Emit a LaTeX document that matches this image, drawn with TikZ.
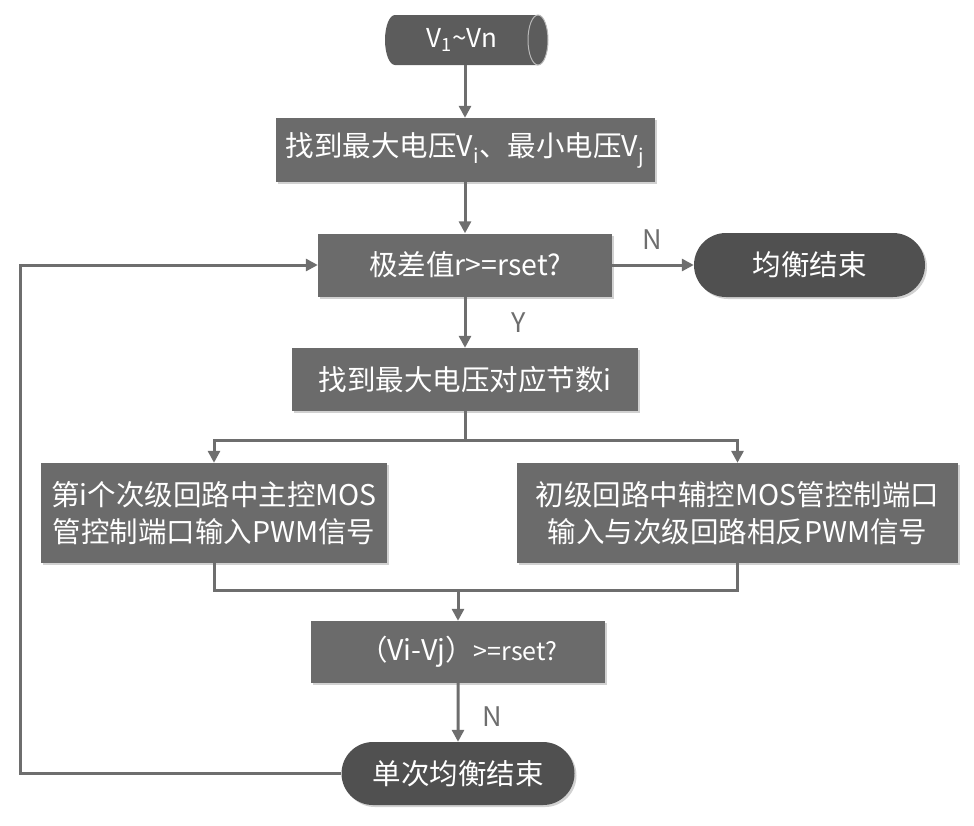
\documentclass[tikz,border=0pt]{standalone}
\usepackage{fontspec}
\setmainfont{Noto Sans CJK SC}
\usetikzlibrary{shapes.misc,arrows.meta,shadows}
\definecolor{boxgray}{HTML}{6B6B6B}
\definecolor{termgray}{HTML}{505050}
\definecolor{cylgray}{HTML}{5C5C5C}
\definecolor{linegray}{HTML}{6E6E6E}
\begin{document}
\begin{tikzpicture}[x=1pt,y=-1pt,
  shade/.style={drop shadow={shadow xshift=2pt,shadow yshift=-2pt,fill=black,opacity=0.18}},
  box/.style={rectangle,fill=boxgray,text=white,inner sep=0pt,align=center,
    font=\fontsize{28.5}{37}\selectfont,shade},
  term/.style={rounded rectangle,fill=termgray,text=white,inner sep=0pt,
    font=\fontsize{28.5}{37}\selectfont,shade},
  wire/.style={draw=linegray,line width=3pt},
  conn/.style={wire,-{Triangle[length=12pt,width=12pt]}},
  lab/.style={text=linegray,font=\fontsize{27}{27}\selectfont}
]
\path[use as bounding box] (0,0) rectangle (974,825);

% cylinder start
\fill[cylgray] (395,15) -- (538,15)
  arc[start angle=90,end angle=-90,x radius=10pt,y radius=25pt]
  -- (395,65)
  arc[start angle=270,end angle=90,x radius=10pt,y radius=25pt] -- cycle;
\draw[gray!55,line width=1pt] (538,40) ellipse[x radius=10pt,y radius=25pt];
\node[minimum width=163pt,minimum height=50pt,inner sep=0pt,text=white,
  font=\fontsize{26}{26}\selectfont] (start) at (462,40)
  {V\textsubscript{1}\textasciitilde Vn};

\node[box,minimum width=379pt,minimum height=64pt] (b2) at (465,150)
  {找到最大电压V\textsubscript{i}、最小电压V\textsubscript{j}};
\node[box,minimum width=294pt,minimum height=63pt] (b3) at (465,265)
  {极差值r>=rset?};
\node[term,minimum width=231pt,minimum height=64pt] (t1) at (809.5,265)
  {均衡结束};
\node[box,minimum width=346pt,minimum height=63pt] (b4) at (465,379.5)
  {找到最大电压对应节数i};
\node[box,minimum width=346pt,minimum height=100pt] (lb) at (214,513)
  {第i个次级回路中主控MOS\\管控制端口输入PWM信号};
\node[box,minimum width=441pt,minimum height=100pt] (rb) at (737.5,513)
  {初级回路中辅控MOS管控制端口\\输入与次级回路相反PWM信号};
\node[box,minimum width=294pt,minimum height=62pt] (b5) at (458,652)
  {（Vi-Vj）{\fontsize{25}{25}\selectfont >=rset?}};
\node[term,minimum width=233pt,minimum height=63pt] (t2) at (458,773.5)
  {单次均衡结束};

\coordinate (split) at (465,440);
\coordinate (join) at (458,590);
\coordinate (lp1) at (20,773.5);
\coordinate (lp2) at (20,265);

\draw[conn] (b2.north |- start.south) -- (b2);
\draw[conn] (b2) -- (b3);
\draw[conn] (b3) -- (t1);
\draw[conn] (b3) -- (b4);
\draw[wire] (b4) -- (split);
\draw[conn] (split) -| (lb.north);
\draw[conn] (split) -| (rb.north);
\draw[wire] (lb.south) -- (lb.south |- join) -- (rb.south |- join) -- (rb.south);
\draw[conn] (join) -- (b5);
\draw[conn] (b5) -- (t2);
\draw[conn] (t2.west) -- (lp1) -- (lp2) -- (b3.west);

\node[lab] (nN1) at (652,240) {N};
\node[lab] (nY) at (519,323) {Y};
\node[lab] (nN2) at (492,717) {N};
\end{tikzpicture}
\end{document}
